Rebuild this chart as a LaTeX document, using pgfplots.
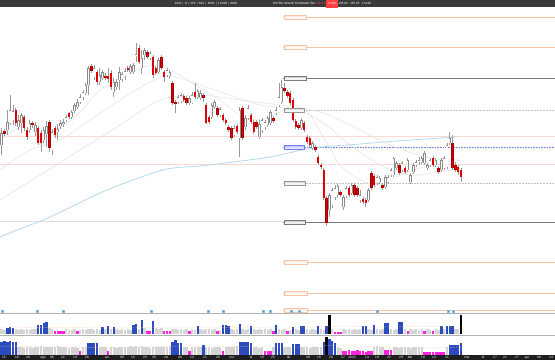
\documentclass[border=0pt]{standalone}
\usepackage{pgfplots}
\pgfplotsset{compat=1.18}
\usepackage{pgfplotstable}
\usepackage{fontspec}
\setmainfont{Liberation Sans}
\definecolor{topbar}{HTML}{3A3A3A}
\definecolor{strip}{HTML}{1E1E1E}
\definecolor{wick}{HTML}{9A9A9A}
\definecolor{upc}{HTML}{8A8A8A}
\definecolor{dnc}{HTML}{E00000}
\definecolor{dno}{HTML}{A00000}
\definecolor{vgray}{HTML}{D4D4D4}
\definecolor{vblue}{HTML}{2C4BBF}
\definecolor{vmag}{HTML}{FF22DD}
\definecolor{lvlor}{HTML}{F9C4A6}
\definecolor{lvlgr}{HTML}{7A7A7A}
\definecolor{lvldot}{HTML}{C4C4C4}
\definecolor{lvlblue}{HTML}{7080E8}
\definecolor{pinkl}{HTML}{FBD8D2}
\definecolor{ma200}{HTML}{A9D6F0}
\definecolor{maG}{HTML}{E2E2E2}
\definecolor{evt}{HTML}{3C8FCF}
\definecolor{volma}{HTML}{F5C89A}
\tikzset{stripl/.style={text=white, inner sep=0pt, font=\fontsize{3.2}{3.5}\selectfont}}
\pgfplotsset{nomark/.style={only marks, mark size=0pt, mark options={draw opacity=0, fill opacity=0}}}
% u: 1 = up (hollow), 0 = down (red); bt/bb body top/bottom, wt/wb wick top/bottom (pixel rows)
% v1,c1: volume panel 1 bar top and colour (0 grey,1 blue,2 magenta,3 black); v2,c2 panel 2
\pgfplotstableread{
u bt bb wt wb v1 c1 v2 c2
1 133 145 128 155 329 0 342 1
0 131 134 129 136 330 0 341 1
1 122 130 110 135 328 1 342 1
1 110 123 95 125 327 1 341 1
1 111 120 105 125 328 1 342 1
0 110 123 108 126 329 0 342 1
1 120 127 115 130 330 0 347 0
1 115 123 113 133 329 0 347 0
0 117 128 115 131 330 0 348 0
0 130 137 127 140 329 0 347 0
1 123 130 120 133 330 0 347 0
0 123 125 121 128 329 0 348 0
1 125 132 122 136 329 0 347 0
0 128 143 126 145 325 1 347 0
0 133 143 130 152 325 1 346 0
1 130 140 127 143 323 1 347 0
1 126 134 121 147 322 1 347 0
0 122 148 120 152 328 0 347 0
1 132 150 129 155 329 0 347 0
0 128 135 126 138 331 2 347 0
1 129 132 124 140 331 2 346 0
1 123 126 120 129 331 2 347 0
1 122 124 119 127 331 2 347 0
1 117 120 115 122 329 0 347 0
0 113 117 112 119 330 0 348 0
1 112 117 110 119 330 0 347 0
1 105 111 103 113 329 0 347 0
1 102 107 99 109 331 2 348 0
1 97 102 94 104 330 0 351 2
1 92 97 90 100 329 0 347 0
1 85 93 83 95 330 0 347 0
1 68 85 66 95 329 0 343 1
0 66 71 64 73 329 0 343 1
1 68 77 65 80 330 0 343 1
0 72 82 70 85 329 0 343 1
1 75 82 68 85 330 0 347 0
1 72 78 70 80 327 1 347 0
0 76 78 73 80 329 0 347 0
0 76 79 68 83 326 1 351 2
0 73 87 70 90 329 0 347 0
1 82 92 78 97 327 1 347 0
1 82 87 79 90 329 0 348 0
1 72 80 67 90 330 0 347 0
1 74 79 72 82 329 0 347 0
1 71 76 68 80 330 0 347 0
0 68 70 66 72 329 0 347 0
1 66 72 64 74 330 0 346 0
1 65 72 63 74 325 1 347 0
1 54 56 43 62 324 1 346 0
0 48 62 45 64 329 0 347 0
1 58 68 50 74 320 1 346 0
1 50 55 48 60 328 0 347 0
0 52 57 50 59 331 2 347 0
1 53 58 51 60 331 2 348 0
0 57 75 55 78 321 1 347 0
0 68 73 66 75 328 0 347 0
1 60 72 58 74 329 0 347 0
0 57 68 55 70 328 0 347 0
0 72 77 70 82 331 2 347 0
1 70 75 68 77 331 2 347 0
1 72 76 70 79 331 2 346 0
0 83 103 81 105 329 0 342 1
0 102 104 100 113 329 0 340 1
1 97 102 95 104 330 0 343 1
1 95 101 93 103 329 0 343 1
0 96 100 94 102 330 0 347 0
0 98 103 96 105 329 0 347 0
1 98 103 96 105 331 2 351 2
1 95 103 92 104 329 0 347 0
0 92 97 83 99 330 0 347 0
1 91 97 89 99 326 1 347 0
1 93 98 90 100 329 0 347 0
0 95 98 93 102 330 0 345 1
0 105 123 103 124 329 0 347 0
0 117 122 115 124 329 0 347 0
1 105 117 103 119 330 0 348 0
1 102 107 100 109 329 0 347 0
0 108 115 106 117 331 2 347 0
1 109 115 107 117 330 0 347 0
0 115 120 113 122 325 1 351 2
0 120 123 118 125 325 1 347 0
0 127 130 125 132 326 1 347 0
0 128 138 126 140 329 0 347 0
1 128 135 125 137 330 0 347 0
0 126 132 124 134 329 0 346 0
1 110 138 107 157 324 1 342 1
0 108 138 106 140 329 0 342 1
1 118 127 115 130 330 0 342 1
1 108 118 105 120 329 0 342 1
0 115 122 113 124 326 1 343 1
0 122 132 120 134 329 0 347 0
0 122 127 120 129 330 0 347 0
1 124 137 120 139 329 0 348 0
1 120 130 118 133 330 0 347 0
1 122 127 120 130 329 0 351 2
1 118 125 116 127 330 0 351 2
1 112 123 110 125 329 0 351 2
0 118 121 116 123 331 2 347 0
1 110 113 107 115 325 1 343 1
1 97 105 83 107 329 0 343 1
1 87 102 80 104 330 0 343 1
0 88 91 83 93 329 0 347 0
0 92 96 90 98 331 2 347 0
0 93 103 91 105 330 0 347 0
0 100 120 98 122 327 1 344 1
0 121 127 119 129 329 0 344 1
0 125 128 123 130 330 0 344 1
1 120 128 118 130 326 1 347 0
0 123 130 121 132 326 1 347 0
0 137 142 135 144 329 0 347 0
0 138 145 136 147 330 0 348 0
1 143 148 141 150 329 0 347 0
0 147 150 145 152 330 0 347 0
0 157 163 155 165 326 1 347 0
0 165 167 163 169 329 0 347 0
0 170 198 168 200 330 0 342 1
0 198 223 196 226 326 1 337 3
1 195 210 193 217 315 3 339 1
1 190 205 188 208 329 0 341 1
1 188 197 185 200 332 2 343 1
1 186 195 184 198 332 2 347 0
0 192 195 190 197 332 2 348 0
1 197 207 195 210 329 0 351 2
1 188 196 186 198 330 0 351 2
0 188 195 186 197 329 0 350 2
1 185 193 183 195 330 0 351 2
0 185 195 183 197 329 0 351 2
0 188 195 186 197 330 0 350 2
1 195 200 190 203 329 0 351 2
0 199 202 197 204 326 1 351 2
0 200 203 198 207 326 1 352 2
1 190 200 188 202 329 0 351 2
0 173 188 171 190 330 0 351 2
0 176 185 174 187 325 1 347 0
1 177 183 175 185 329 0 346 0
1 178 182 176 184 330 0 347 0
0 185 188 183 190 329 0 347 0
1 177 187 175 189 323 1 350 2
1 177 182 175 184 323 1 350 2
1 170 175 168 177 329 0 350 2
1 158 175 157 177 330 0 347 0
1 163 168 161 170 329 0 347 0
0 165 173 163 175 322 1 348 0
1 163 170 161 172 322 1 347 0
0 168 172 166 174 329 0 347 0
1 160 170 158 172 331 2 347 0
1 175 182 173 184 329 0 348 0
1 165 172 163 174 330 0 347 0
1 162 165 160 167 329 0 347 0
1 160 162 157 165 330 0 347 0
1 158 162 156 164 329 0 347 0
1 153 163 151 165 331 2 352 2
1 165 168 163 170 329 0 352 2
1 160 165 158 167 330 0 352 2
0 158 165 156 167 331 2 352 2
1 160 165 158 167 329 0 352 2
0 168 172 166 174 330 0 352 2
1 160 170 158 172 326 1 352 2
1 158 168 156 170 329 0 352 2
1 145 167 143 169 326 1 347 0
1 138 143 132 145 326 1 345 1
0 143 168 135 170 326 1 345 1
0 165 170 162 172 329 0 345 1
0 167 172 165 175 329 0 345 1
0 170 177 168 182 315 3 343 1
}\cndl
\newcommand{\lvlbox}[4]{\node[anchor=west, inner sep=0.6pt, fill=#3, draw=#2, line width=0.3pt, text=#2, font=\fontsize{2.8}{3}\selectfont] at (axis cs:284,#1) {#4};}
\begin{document}
\begin{tikzpicture}
\begin{axis}[scale only axis, width=555pt, height=360pt,
  xmin=0, xmax=555, ymin=0, ymax=360, y dir=reverse,
  axis lines=none, xtick=\empty, ytick=\empty, clip=true]
\fill[white] (axis cs:0,0) rectangle (axis cs:555,360);
% full-width faint levels
\addplot[pinkl, line width=0.6pt] coordinates {(0,136) (555,136)};
\addplot[pinkl, line width=0.6pt] coordinates {(0,164) (555,164)};
\addplot[black!12, line width=0.5pt] coordinates {(0,221) (283,221)};
% right side levels
\addplot[lvlor, line width=0.7pt] coordinates {(283,17) (555,17)};
\addplot[lvlor, line width=0.7pt] coordinates {(283,47) (555,47)};
\addplot[lvlgr, line width=0.6pt] coordinates {(283,78) (555,78)};
\addplot[lvldot, line width=0.5pt, densely dotted] coordinates {(283,110) (555,110)};
\addplot[lvlblue, line width=0.6pt, densely dotted] coordinates {(283,147) (555,147)};
\addplot[lvldot, line width=0.5pt, densely dotted] coordinates {(283,183) (555,183)};
\addplot[lvlgr, line width=0.6pt] coordinates {(283,222) (555,222)};
\addplot[lvlor, line width=0.7pt] coordinates {(283,262) (555,262)};
\addplot[lvlor, line width=0.7pt] coordinates {(283,293) (555,293)};
\addplot[lvlor, line width=0.7pt] coordinates {(283,310) (555,310)};
% moving averages
\addplot[ma200, line width=0.7pt, smooth] coordinates {(0,237) (17,230) (50,217) (100,193) (133,180) (167,169) (200,166) (233,162) (270,157) (313,148) (360,144) (410,140) (457,137)};
\addplot[maG, line width=0.5pt, smooth] coordinates {(0,140) (20,128) (45,133) (60,128) (80,112) (100,90) (120,80) (140,68) (160,65) (175,72) (200,88) (220,100) (240,115) (260,120) (280,112) (295,105) (310,115) (325,140) (340,165) (360,180) (380,185) (400,175) (420,168) (440,163) (460,160)};
\addplot[maG, line width=0.5pt, smooth] coordinates {(0,170) (30,150) (60,140) (90,120) (120,100) (150,82) (170,76) (200,85) (230,95) (260,105) (285,108) (310,115) (330,128) (350,145) (380,165) (410,175) (440,172) (460,168)};
\addplot[maG, line width=0.5pt, smooth] coordinates {(0,200) (40,175) (80,150) (120,125) (160,100) (200,95) (240,100) (280,105) (320,112) (350,125) (390,145) (430,158) (460,160)};
% candle wicks
\addplot[nomark, error bars/.cd, y dir=both, y explicit, error mark=none,
  error bar style={line width=0.5pt, draw=wick}]
  table[x expr=1.7+2.8*\coordindex, y expr=(\thisrow{wt}+\thisrow{wb})/2, y error expr=(\thisrow{wb}-\thisrow{wt})/2] {\cndl};
% up bodies
\addplot[nomark, restrict expr to domain={\thisrow{u}}{1:1}, error bars/.cd, y dir=both, y explicit, error mark=none,
  error bar style={line width=2.4pt, draw=upc}]
  table[x expr=1.7+2.8*\coordindex, y expr=(\thisrow{bt}+\thisrow{bb})/2, y error expr=(\thisrow{bb}-\thisrow{bt})/2] {\cndl};
\addplot[nomark, restrict expr to domain={\thisrow{u}}{1:1}, error bars/.cd, y dir=both, y explicit, error mark=none,
  error bar style={line width=1.4pt, draw=white}]
  table[x expr=1.7+2.8*\coordindex, y expr=(\thisrow{bt}+\thisrow{bb})/2, y error expr={max((\thisrow{bb}-\thisrow{bt})/2-0.5,0)}] {\cndl};
% down bodies
\addplot[nomark, restrict expr to domain={\thisrow{u}}{0:0}, error bars/.cd, y dir=both, y explicit, error mark=none,
  error bar style={line width=2.4pt, draw=dno}]
  table[x expr=1.7+2.8*\coordindex, y expr=(\thisrow{bt}+\thisrow{bb})/2, y error expr=(\thisrow{bb}-\thisrow{bt})/2] {\cndl};
\addplot[nomark, restrict expr to domain={\thisrow{u}}{0:0}, error bars/.cd, y dir=both, y explicit, error mark=none,
  error bar style={line width=1.6pt, draw=dnc}]
  table[x expr=1.7+2.8*\coordindex, y expr=(\thisrow{bt}+\thisrow{bb})/2, y error expr={max((\thisrow{bb}-\thisrow{bt})/2-0.4,0)}] {\cndl};
% level labels
\lvlbox{17}{lvlor}{orange!4}{186.00 (19.86\%)}
\lvlbox{47}{lvlor}{orange!4}{180.00 (15.99\%)}
\lvlbox{78}{lvlgr}{black!4}{173.80 (12.00\%)}
\lvlbox{110}{black!40}{black!3}{167.40 (7.88\%)}
\lvlbox{147}{lvlblue}{blue!12}{160.00 (3.11\%)}
\lvlbox{183}{black!40}{black!3}{152.80 (-1.53\%)}
\lvlbox{222}{lvlgr}{black!6}{145.00 (-6.56\%)}
\lvlbox{262}{lvlor}{orange!4}{137.00 (-11.72\%)}
\lvlbox{293}{lvlor}{orange!4}{130.80 (-15.71\%)}
\lvlbox{310}{lvlor}{orange!4}{127.40 (-17.90\%)}
% separators
\addplot[black!30, line width=0.6pt] coordinates {(0,313.5) (555,313.5)};
\addplot[black!30, line width=0.6pt] coordinates {(0,335.5) (555,335.5)};
% events
\addplot[only marks, mark=square*, mark size=1.1pt, mark options={fill=evt, draw=evt!60, line width=0.4pt}] coordinates {(2,311) (37,311) (63,311) (151,311) (208,311) (223,311) (263,311) (270,311) (291,311) (299,311) (377,311) (448,311) (453,311)};
% volume panel 1
\addplot[nomark, restrict expr to domain={\thisrow{c1}}{0:0}, error bars/.cd, y dir=both, y explicit, error mark=none, error bar style={line width=2.4pt, draw=vgray}]
  table[x expr=1.7+2.8*\coordindex, y expr=(\thisrow{v1}+334)/2, y error expr=(334-\thisrow{v1})/2] {\cndl};
\addplot[nomark, restrict expr to domain={\thisrow{c1}}{1:1}, error bars/.cd, y dir=both, y explicit, error mark=none, error bar style={line width=2.4pt, draw=vblue}]
  table[x expr=1.7+2.8*\coordindex, y expr=(\thisrow{v1}+334)/2, y error expr=(334-\thisrow{v1})/2] {\cndl};
\addplot[nomark, restrict expr to domain={\thisrow{c1}}{2:2}, error bars/.cd, y dir=both, y explicit, error mark=none, error bar style={line width=2.4pt, draw=vmag}]
  table[x expr=1.7+2.8*\coordindex, y expr=(\thisrow{v1}+334)/2, y error expr=(334-\thisrow{v1})/2] {\cndl};
\addplot[nomark, restrict expr to domain={\thisrow{c1}}{3:3}, error bars/.cd, y dir=both, y explicit, error mark=none, error bar style={line width=2.4pt, draw=black}]
  table[x expr=1.7+2.8*\coordindex, y expr=(\thisrow{v1}+334)/2, y error expr=(334-\thisrow{v1})/2] {\cndl};
\addplot[volma, line width=0.5pt, densely dotted, smooth] coordinates {(0,328) (60,327.5) (120,328) (180,327) (240,327.5) (300,328) (330,326) (380,327) (420,326.5) (462,327)};
% volume panel 2
\addplot[nomark, restrict expr to domain={\thisrow{c2}}{0:0}, error bars/.cd, y dir=both, y explicit, error mark=none, error bar style={line width=2.4pt, draw=vgray}]
  table[x expr=1.7+2.8*\coordindex, y expr=(\thisrow{v2}+355)/2, y error expr=(355-\thisrow{v2})/2] {\cndl};
\addplot[nomark, restrict expr to domain={\thisrow{c2}}{1:1}, error bars/.cd, y dir=both, y explicit, error mark=none, error bar style={line width=2.4pt, draw=vblue}]
  table[x expr=1.7+2.8*\coordindex, y expr=(\thisrow{v2}+355)/2, y error expr=(355-\thisrow{v2})/2] {\cndl};
\addplot[nomark, restrict expr to domain={\thisrow{c2}}{2:2}, error bars/.cd, y dir=both, y explicit, error mark=none, error bar style={line width=2.4pt, draw=vmag}]
  table[x expr=1.7+2.8*\coordindex, y expr=(\thisrow{v2}+355)/2, y error expr=(355-\thisrow{v2})/2] {\cndl};
\addplot[nomark, restrict expr to domain={\thisrow{c2}}{3:3}, error bars/.cd, y dir=both, y explicit, error mark=none, error bar style={line width=2.4pt, draw=black}]
  table[x expr=1.7+2.8*\coordindex, y expr=(\thisrow{v2}+355)/2, y error expr=(355-\thisrow{v2})/2] {\cndl};
\addplot[volma, line width=0.5pt, densely dotted, smooth] coordinates {(0,346) (60,347) (120,347.5) (180,346) (240,346.5) (300,347) (340,345) (380,347) (420,348) (462,347)};
% top bar
\fill[topbar] (axis cs:0,0) rectangle (axis cs:555,7);
\node[anchor=west, text=white, inner sep=0pt, font=\fontsize{3}{3.5}\selectfont] at (axis cs:175,3.5) {EXR \,|\, D \,|\, 250 \,|\, 50U \,|\, 5000 \,|\, 1.0000 \,|\, 6000};
\node[anchor=west, text=white, inner sep=0pt, font=\fontsize{3}{3.5}\selectfont] at (axis cs:273,3.5) {EXTRA SPACE STORAGE INC \textcolor{red!70}{155.18} \colorbox{red!75}{\strut\kern-2pt -0.58\%\kern-2pt} 155.60 \; 155.95 \; 1.5236};
% bottom strip
\fill[strip] (axis cs:0,355.3) rectangle (axis cs:555,360);
\foreach \xx/\lab in {4/15,17/19,28/29,43/ago,52/06,63/12,75/19,87/26,107/set,122/09,133/16,145/23,154/30,166/ott,180/08,192/14,205/21,218/28,232/nov,251/11,262/18,273/25,289/dic,308/09,319/16,331/20,343/27,352/2025,367/13,377/18,389/22,401/29,410/feb,423/10,434/14,447/21,467/mar,483/11,495/17,505/21,517/27,527/apr,539/08,551/14}{
  \edef\tmp{\noexpand\node[stripl] at (axis cs:\xx,357.7) {\lab};}\tmp
}
\end{axis}
\end{tikzpicture}
\end{document}
